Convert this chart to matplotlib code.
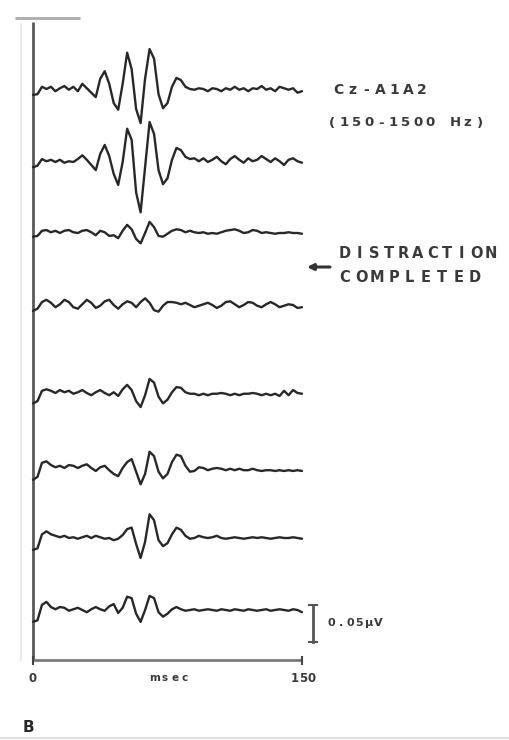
import numpy as np
import matplotlib
matplotlib.use("Agg")
import matplotlib.pyplot as plt

# Sweep time base (ms), shared by all averaged responses
time_ms = np.arange(0, 150.0 + 0.1, 2.5)

# Averaged far-field responses, amplitude in nV, top to bottom
trace_1 = [-8, -7, 3, 0, 3, -3, 1, 4, -1, 3, -3, 7, 1, -5, -11, 14, 24, 7, -19, -28,
           7, 49, 27, -27, -46, 14, 54, 41, -7, -26, -19, 3, 15, 12, 3, 0, -1, 1, 0, -3,
           1, 0, -3, 1, -1, 3, -1, 1, -3, 1, 0, 4, -1, 1, -3, 3, 1, -1, 1, -5, -3]
trace_2 = [-7, -5, 4, 1, 3, 0, 3, -1, 1, 0, 4, 9, 3, -4, -11, 11, 23, 8, -16, -31,
           0, 45, 30, -41, -68, -7, 54, 38, -11, -30, -22, 3, 19, 16, 7, 4, 5, 1, 5, 0,
           3, 7, 1, -3, 4, 8, 3, -1, 5, 1, 3, 8, 4, 0, 5, 1, -4, 3, 5, 1, -1]
trace_3 = [-5, -4, 3, 4, 1, 3, 0, 3, 4, 1, 0, 3, 4, 1, -3, 3, 1, -4, -3, -7,
           3, 11, 5, -8, -14, 0, 15, 8, -4, -5, -1, 3, 5, 4, 1, 3, 1, 0, 1, -1,
           0, -1, 1, 3, 4, 5, 3, 0, 1, 4, 3, 0, 1, 0, -1, 0, 0, 1, 0, 0, -1]
trace_4 = [-8, -5, 4, 7, 3, -3, 1, 7, 4, -3, -5, 1, 7, 3, -4, -1, 5, 7, 0, -5,
           1, 5, 3, -3, 4, 9, 3, -7, -9, -1, 4, 4, 3, 1, 3, 0, -3, -1, 1, 3,
           0, -4, -1, 4, 5, 1, -3, 0, 4, 3, -1, -3, 1, 4, 1, -3, -1, 1, 0, -4, -3]
trace_5 = [-14, -11, 3, 5, 3, 0, 4, 1, 3, -1, 1, 4, 0, -3, 1, 4, 0, -3, 1, -4,
           5, 11, 4, -11, -19, -3, 19, 14, -5, -14, -9, 1, 8, 7, 1, -1, -1, -3, -1, -3,
           -1, -1, 0, -1, -3, -1, -3, -1, -1, 0, -1, -3, -1, -3, -1, -4, 3, -3, 4, 0, -1]
trace_6 = [-16, -12, 7, 9, 4, 1, 3, 0, 4, 3, 0, 3, 5, 0, -4, 1, 3, -3, -8, -11,
           0, 8, 12, -5, -22, -8, 22, 16, -5, -14, -8, 8, 18, 16, 3, -5, -4, 1, 0, -3,
           -1, 0, -1, -3, -1, -3, -1, -3, -3, -1, -3, -4, -3, -3, -4, -3, -4, -3, -4, -3, -4]
trace_7 = [-16, -14, 5, 9, 5, 3, 1, 3, 0, 1, -1, 1, 3, 0, 3, 1, -1, 0, -3, -1,
           4, 12, 14, -8, -27, -5, 32, 24, -3, -11, -7, 5, 14, 11, 3, -1, 0, 3, 1, 0,
           1, 3, 0, -1, 0, 1, 0, -1, 0, 1, 0, 1, 0, -1, 0, 1, 0, 0, 1, 0, -1]
trace_8 = [-16, -14, 7, 11, 4, 1, 4, 3, -1, 1, 3, 0, -3, 1, 4, 1, -1, 5, 8, -4,
           3, 18, 16, -5, -16, 0, 19, 16, -3, -9, -5, 1, 4, 1, -1, 0, 1, -1, 0, 1,
           0, -1, 1, 0, -1, 1, 0, -1, 1, 0, -1, 0, 1, -1, 0, 1, 0, -1, 1, 0, -3]
traces = [trace_1, trace_2, trace_3, trace_4, trace_5, trace_6, trace_7, trace_8]

x_tick_values = [0, 150]
x_tick_labels = ["0", "150"]
x_axis_label = "msec"
derivation_label = ["Cz-A1A2", "(150-1500 Hz)"]
event_label = ["DISTRACTION", "COMPLETED"]
scale_bar_nv = 50
scale_bar_label = f"{scale_bar_nv / 1000:.2f}\u00b5V"
panel_label = "B"

# ---- page geometry (pixels) ----
W, H = 509, 740
X0_PX, X150_PX = 33, 302
BAR_PX = 37                      # height of the calibration bar
NV_PER_PX = scale_bar_nv / BAR_PX
baselines_px = [89, 162, 233, 305, 393, 468, 538, 610]


def px_x(px):
    return (px - X0_PX) * 150.0 / (X150_PX - X0_PX)


def px_y(py):
    return (H - py) * NV_PER_PX


fig = plt.figure(figsize=(W / 100, H / 100), dpi=100)
ax = fig.add_axes([0, 0, 1, 1])
ax.set_xlim(px_x(0), px_x(W))
ax.set_ylim(px_y(H), px_y(0))
ax.axis("off")

INK = "#282828"

# faint scan edges
ax.plot([px_x(15), px_x(80)], [px_y(18)] * 2, color="#b0b0b0", lw=2.2, solid_capstyle="butt")
ax.plot([px_x(21)] * 2, [px_y(24), px_y(660)], color="#e6e6e6", lw=1.2)
ax.plot([px_x(0), px_x(W)], [px_y(738)] * 2, color="#e2e2e2", lw=1.5)

# time axis and left reference line
ax.plot([0, 0], [px_y(22), px_y(661)], color="#5a5a5a", lw=2.0, solid_capstyle="butt")
ax.plot([x_tick_values[0], x_tick_values[-1]], [px_y(660)] * 2, color="#7a7a7a", lw=2.0,
        solid_capstyle="butt")
for xv in x_tick_values:
    ax.plot([xv, xv], [px_y(657), px_y(664)], color="#444444", lw=1.5)

# averaged responses
for base, tr in zip(baselines_px, traces):
    ax.plot(time_ms, px_y(base) + np.asarray(tr, float), color=INK, lw=1.7,
            solid_joinstyle="round", solid_capstyle="round")


def spaced(x_px, y_px, s, adv, size, weight="bold", color="#3a3a3a"):
    """Draw a string one glyph at a time with a fixed advance (pixels)."""
    for i, ch in enumerate(s):
        if ch == " ":
            continue
        ax.text(px_x(x_px + i * adv), px_y(y_px), ch, ha="center", va="center",
                fontsize=size, fontweight=weight, color=color, family="DejaVu Sans")


# tick labels and axis label
spaced(33, 678, x_tick_labels[0], 7, 8.5)
spaced(295, 678, x_tick_labels[1], 8.5, 8.5)
spaced(155, 678, x_axis_label, 10, 7.5)

# derivation and filter band
spaced(338, 90, derivation_label[0], 14.0, 10)
spaced(332, 123, derivation_label[1], 12.3, 9.5)

# event marker
ax.annotate("", xy=(px_x(307), px_y(267)), xytext=(px_x(330), px_y(267)),
            arrowprops=dict(arrowstyle="-|>", color="#333333", lw=2.2, mutation_scale=9,
                            shrinkA=0, shrinkB=0))
spaced(345, 253, event_label[0], 14.6, 10.5)
spaced(345, 277, event_label[1], 16.2, 10.5)

# calibration bar
bar_x = px_x(313)
bar_bottom = px_y(642)
ax.plot([bar_x, bar_x], [bar_bottom, bar_bottom + scale_bar_nv], color="#555555", lw=2.0)
for yy in (bar_bottom, bar_bottom + scale_bar_nv):
    ax.plot([px_x(309), px_x(317)], [yy, yy], color="#555555", lw=1.5)
spaced(331, 623, scale_bar_label, 9.5, 8)

# panel letter
ax.text(px_x(28), px_y(728), panel_label, ha="center", va="center", fontsize=11,
        fontweight="bold", color="#2a2a2a")

fig.savefig("out.png", dpi=100, facecolor="white")
